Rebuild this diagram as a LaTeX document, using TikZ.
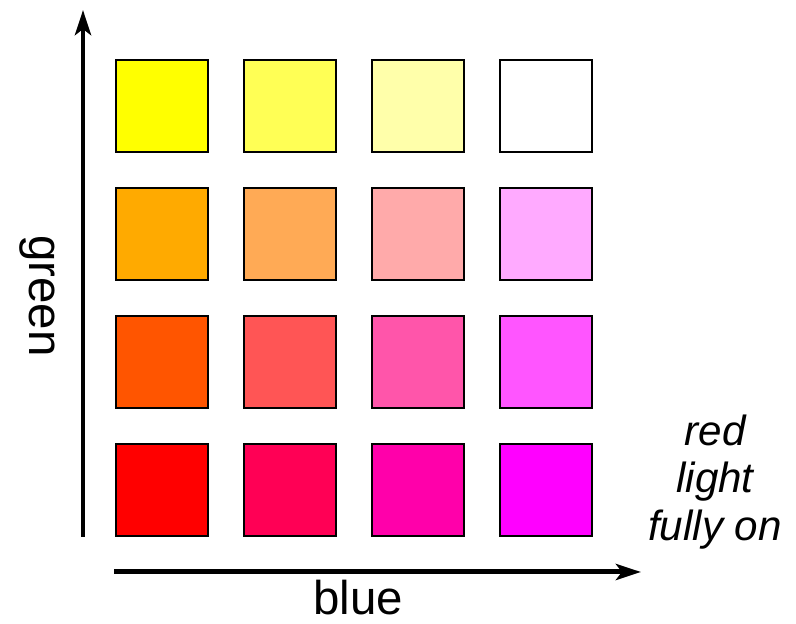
\documentclass[tikz,border=0pt]{standalone}
\usepackage{fontspec}
\setmainfont{Liberation Sans}
\usetikzlibrary{arrows.meta}

\begin{document}
\begin{tikzpicture}[x=0.02cm,y=-0.02cm,
    cell/.style={draw=black,line width=0.04cm,minimum size=1.84cm,inner sep=0pt},
    axis/.style={line width=0.1cm,-{Stealth[length=0.5cm,width=0.32cm,inset=0.12cm]}},
    axislabel/.style={font=\fontsize{27}{32}\selectfont,inner sep=0pt}]
  \useasboundingbox (0,0) rectangle (796,624);
  % colour grid: blue grows to the right, green grows upwards
  \foreach [count=\i] \b in {0,85,170,255}{
    \foreach [count=\j] \g in {0,85,170,255}{
      \node[cell,fill={rgb,255:red,255;green,\g;blue,\b}] (c\i\j) at ({34+\i*128},{618-\j*128}) {};
    }
  }
  \coordinate (yfoot) at (83,537); \coordinate (ytip) at (83,10);
  \coordinate (xfoot) at (114,572); \coordinate (xtip) at (641,572);
  \draw[axis] (yfoot) -- (ytip);
  \draw[axis] (xfoot) -- (xtip);
  \node[axislabel,rotate=-90,anchor=base] (glabel) at (30,296) {green};
  \node[axislabel,anchor=base] (blabel) at (358,615) {blue};
  \node[font=\fontsize{24}{27}\selectfont\itshape,align=center,inner sep=0pt] (rlabel) at (715,482) {red\\light\\fully on};
\end{tikzpicture}
\end{document}
